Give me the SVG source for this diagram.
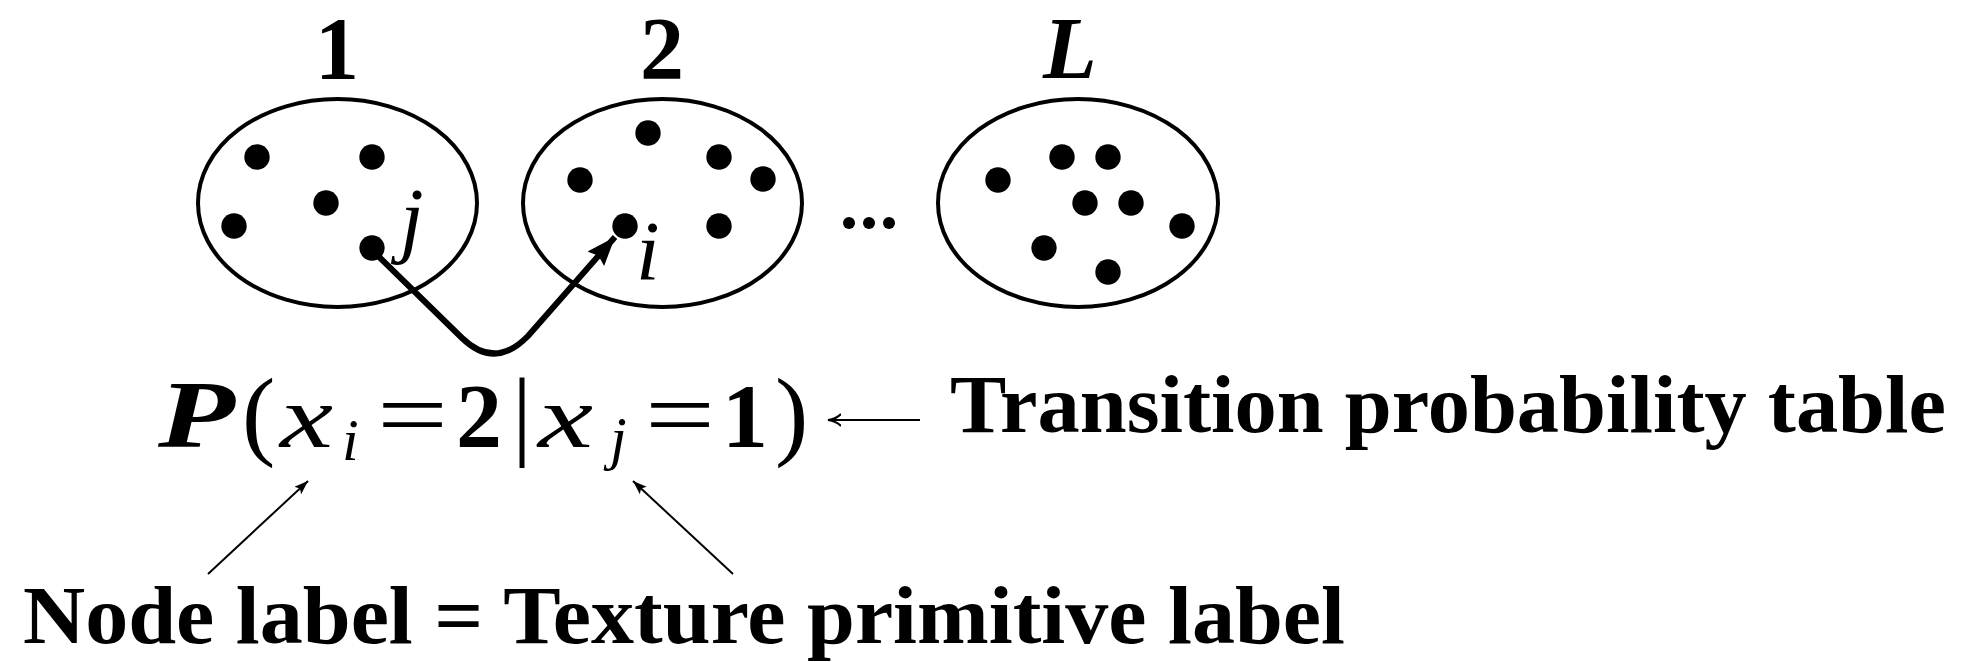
<svg xmlns="http://www.w3.org/2000/svg" width="1985" height="662" viewBox="0 0 1985 662">
<style>
.ell{fill:none;stroke:#000;stroke-width:4}
.dot{fill:#000}
.num{font-family:"Liberation Serif",serif;font-weight:bold;font-size:88px;text-anchor:middle}
.numL{font-family:"Liberation Serif",serif;font-weight:bold;font-style:italic;font-size:88px;text-anchor:middle}
.idx{font-family:"Liberation Serif",serif;font-style:italic;font-size:85px}
.m{font-family:"Liberation Serif",serif;font-size:95px}
.mi{font-family:"Liberation Serif",serif;font-style:italic;font-size:88px}
.sub{font-family:"Liberation Serif",serif;font-style:italic;font-size:60px}
.mb{font-family:"Liberation Serif",serif;font-weight:bold;font-size:92px}
.par{font-family:"Liberation Serif",serif;font-size:100px}
.txt{font-family:"Liberation Serif",serif;font-weight:bold;font-size:82px}
.thin{fill:none;stroke:#000;stroke-width:2}
</style>
<defs>
<marker id="bighead" markerUnits="userSpaceOnUse" markerWidth="30" markerHeight="24" refX="29" refY="11" orient="auto">
<path d="M0,0 L29,11 L0,22 L4,11 z" fill="#000"/>
</marker>
<marker id="smallhead" markerUnits="userSpaceOnUse" markerWidth="16" markerHeight="12" refX="14" refY="5" orient="auto">
<path d="M0,0 L14,5 L0,10 L3,5 z" fill="#000"/>
</marker>
<marker id="hookhead" markerUnits="userSpaceOnUse" markerWidth="16" markerHeight="16" refX="13" refY="6.5" orient="auto">
<path d="M0,0.5 Q5,5.5 13,6.5 Q5,7.5 0,12.5" fill="none" stroke="#000" stroke-width="2"/>
</marker>
</defs>

<g id="node-1">
<text class="num" x="337" y="78">1</text>
<ellipse class="ell" cx="337.5" cy="203" rx="139.5" ry="104"/>
<circle class="dot" cx="257" cy="157" r="12.7"/>
<circle class="dot" cx="372" cy="157" r="12.7"/>
<circle class="dot" cx="326" cy="203" r="12.7"/>
<circle class="dot" cx="234" cy="226" r="12.7"/>
<circle class="dot" cx="372" cy="248" r="12.7"/>
<text class="idx" x="400" y="247">j</text>
</g>

<g id="node-2">
<text class="num" x="662" y="78">2</text>
<ellipse class="ell" cx="662.5" cy="203" rx="139.5" ry="104"/>
<circle class="dot" cx="648" cy="133" r="12.7"/>
<circle class="dot" cx="719" cy="157" r="12.7"/>
<circle class="dot" cx="763" cy="179" r="12.7"/>
<circle class="dot" cx="580" cy="180" r="12.7"/>
<circle class="dot" cx="625" cy="226" r="12.7"/>
<circle class="dot" cx="719" cy="226" r="12.7"/>
<text class="idx" x="636" y="280">i</text>
</g>

<g id="ellipsis">
<circle class="dot" cx="849" cy="223" r="6"/>
<circle class="dot" cx="869" cy="223" r="6"/>
<circle class="dot" cx="889" cy="223" r="6"/>
</g>

<g id="node-L">
<text class="numL" x="1070" y="78">L</text>
<ellipse class="ell" cx="1078" cy="203" rx="140" ry="104"/>
<circle class="dot" cx="998" cy="180" r="12.7"/>
<circle class="dot" cx="1062" cy="157" r="12.7"/>
<circle class="dot" cx="1108" cy="157" r="12.7"/>
<circle class="dot" cx="1085" cy="203" r="12.7"/>
<circle class="dot" cx="1131" cy="203" r="12.7"/>
<circle class="dot" cx="1182" cy="226" r="12.7"/>
<circle class="dot" cx="1044" cy="248" r="12.7"/>
<circle class="dot" cx="1108" cy="272" r="12.7"/>
</g>

<g id="formula">
<text class="m" x="158" y="447" font-weight="bold" font-style="italic" textLength="77" lengthAdjust="spacingAndGlyphs">P</text>
<text class="par" x="242" y="447">(</text>
<text class="mi" x="280" y="447" textLength="53" lengthAdjust="spacingAndGlyphs">x</text>
<text class="sub" x="342" y="460">i</text>
<text class="m" x="377" y="447" textLength="71" lengthAdjust="spacingAndGlyphs">=</text>
<text class="mb" x="456" y="447">2</text>
<text class="par" x="512" y="447">|</text>
<text class="mi" x="538" y="447" textLength="55" lengthAdjust="spacingAndGlyphs">x</text>
<text class="sub" x="610" y="458">j</text>
<text class="m" x="645" y="447" textLength="70" lengthAdjust="spacingAndGlyphs">=</text>
<text class="mb" x="722" y="447">1</text>
<text class="par" x="775" y="447">)</text>
</g>

<g id="label-table">
<text class="txt" x="950" y="432" textLength="996" lengthAdjust="spacingAndGlyphs">Transition probability table</text>
</g>

<g id="label-node">
<text class="txt" x="23" y="643" textLength="1322" lengthAdjust="spacingAndGlyphs">Node label = Texture primitive label</text>
</g>

<g id="connectors">
<path d="M372,250 L462,338 Q495,370 528,336 L615,237" fill="none" stroke="#000" stroke-width="6" stroke-linejoin="round" marker-end="url(#bighead)"/>
<path class="thin" d="M920,420 L828,420" marker-end="url(#hookhead)"/>
<path class="thin" d="M208,574 L308,481" marker-end="url(#smallhead)"/>
<path class="thin" d="M733,574 L633,481" marker-end="url(#smallhead)"/>
</g>
</svg>
